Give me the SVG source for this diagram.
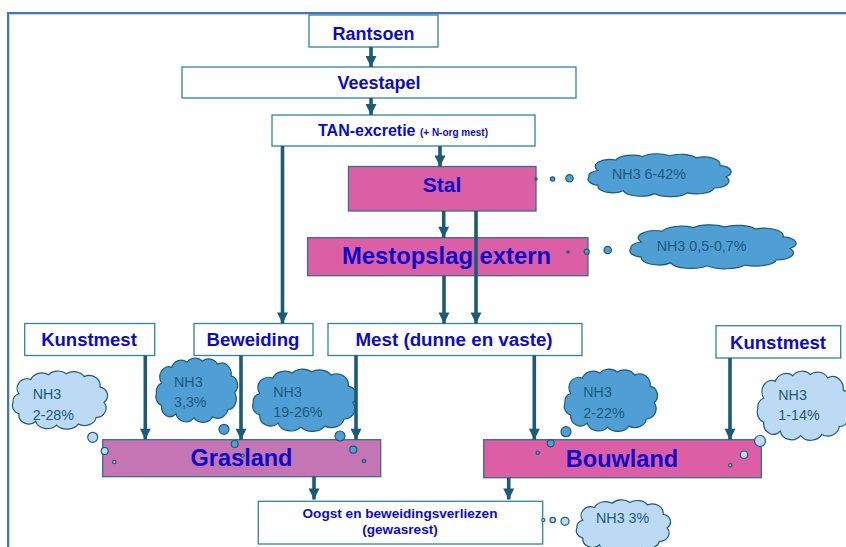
<svg xmlns="http://www.w3.org/2000/svg" xmlns:xlink="http://www.w3.org/1999/xlink" width="846" height="547" viewBox="0 0 846 547">
<style>
.box{fill:#fff;stroke:#31849b;stroke-width:1.3}
.pink{fill:#dc5ea5;stroke:#31708e;stroke-width:1.3}
.mauve{fill:#c574b4;stroke:#31708e;stroke-width:1.3}
.t{font-family:"Liberation Sans",Arial,sans-serif;font-weight:bold;fill:#0b0bc8;text-anchor:middle}
.ct{font-family:"Liberation Sans",Arial,sans-serif;font-size:14.3px;fill:#1e5878}
.cm{fill:#4f9fd4;stroke:#1e5a78;stroke-width:1.2}
.cl{fill:#bcdaf4;stroke:#1e5a78;stroke-width:1.2}
.con{stroke:#1d5a76;stroke-width:3.6;fill:none;marker-end:url(#ah)}
.frame{stroke:#4472c4;stroke-width:2;fill:none}
</style>
<defs>
<marker id="ah" viewBox="0 0 10 10" refX="10" refY="5" markerWidth="12" markerHeight="11" markerUnits="userSpaceOnUse" orient="auto">
<path d="M0,0 L10,5 L0,10 Z" fill="#1d5a76"/>
</marker>
<path id="cloud" vector-effect="non-scaling-stroke" d="M10,25 A10,10 0 0 1 22,10 A12,11 0 0 1 40,5 A12,10 0 0 1 58,4 A12,10 0 0 1 76,7 A11,11 0 0 1 92,18 A9,9 0 0 1 96,34 A10,10 0 0 1 88,50 A12,10 0 0 1 70,57 A13,10 0 0 1 48,58 A12,10 0 0 1 27,54 A10,10 0 0 1 10,46 A9,9 0 0 1 4,34 A8,8 0 0 1 10,25 Z"/>
</defs>
<rect width="846" height="547" fill="#fff"/>
<path class="frame" d="M8,547 V13 H846"/>
<path d="M9.5,547 V14.5 H846" stroke="#c5d6ef" stroke-width="1" fill="none"/>

<g id="rantsoen"><rect class="box" x="309" y="15" width="129" height="32"/><text class="t" x="373.5" y="39.5" font-size="18">Rantsoen</text></g>
<g id="veestapel"><rect class="box" x="182" y="67" width="394" height="31"/><text class="t" x="379" y="89.3" font-size="18">Veestapel</text></g>
<g id="tan"><rect class="box" x="272" y="115" width="263" height="31"/><text class="t" x="403" y="136" font-size="16">TAN-excretie <tspan font-size="10">(+ N-org mest)</tspan></text></g>
<g id="stal"><rect class="pink" x="348.5" y="166.5" width="187.5" height="44.5"/><text class="t" x="442" y="191.7" font-size="21">Stal</text></g>
<g id="mestopslag"><rect class="pink" x="307.6" y="237.7" width="280.4" height="38"/><text class="t" x="446.5" y="264" font-size="23.8">Mestopslag extern</text></g>
<g id="kunstmest-l"><rect class="box" x="24.7" y="323.5" width="130" height="32"/><text class="t" x="89" y="346" font-size="18.5">Kunstmest</text></g>
<g id="beweiding"><rect class="box" x="194" y="323.5" width="119" height="32"/><text class="t" x="253" y="346" font-size="18.6">Beweiding</text></g>
<g id="mest"><rect class="box" x="328" y="323.5" width="254" height="32"/><text class="t" x="454" y="346" font-size="18.8">Mest (dunne en vaste)</text></g>
<g id="kunstmest-r"><rect class="box" x="716" y="325.7" width="124.7" height="32.3"/><text class="t" x="778" y="349" font-size="18.6">Kunstmest</text></g>
<g id="grasland"><rect class="mauve" x="102.7" y="439.7" width="278" height="37"/><text class="t" x="241.5" y="465.7" font-size="23.5">Grasland</text></g>
<g id="bouwland"><rect class="pink" x="483.7" y="439.7" width="277.6" height="38"/><text class="t" x="622" y="466.7" font-size="23.5">Bouwland</text></g>
<g id="oogst"><rect class="box" x="258.3" y="501.3" width="284.4" height="42.7"/><text class="t" x="400" y="518.3" font-size="13.6">Oogst en beweidingsverliezen</text><text class="t" x="400" y="534" font-size="13.6">(gewasrest)</text></g>

<g id="cloud-stal">
<use xlink:href="#cloud" href="#cloud" class="cm" transform="translate(583,153) scale(1.49,0.7)"/>
<text class="ct" x="612" y="179">NH3 6-42%</text>
<circle class="cm" cx="536" cy="179" r="1.2"/><circle class="cm" cx="552.5" cy="179" r="2.2"/><circle class="cm" cx="569.5" cy="178.3" r="3.7"/>
</g>
<g id="cloud-opslag">
<use xlink:href="#cloud" href="#cloud" class="cm" transform="translate(624,224) scale(1.73,0.72)"/>
<text class="ct" x="656.7" y="251">NH3 0,5-0,7%</text>
<circle class="cm" cx="568" cy="252" r="1.2"/><circle class="cm" cx="586.7" cy="251.7" r="2.5"/><circle class="cm" cx="607.7" cy="250" r="3.7"/>
</g>
<g id="cloud-kunst-l">
<use xlink:href="#cloud" href="#cloud" class="cl" transform="translate(9,370) scale(0.99,0.95)"/>
<text class="ct" x="32.7" y="399">NH3</text><text class="ct" x="32.7" y="420">2-28%</text>
<circle class="cl" cx="92.7" cy="437.3" r="5"/><circle class="cl" cx="104.7" cy="451" r="3.5"/><circle class="cl" cx="114.3" cy="462" r="1.7"/>
</g>
<g id="cloud-beweiding">
<use xlink:href="#cloud" href="#cloud" class="cm" transform="translate(153,357) scale(0.85,1.05)"/>
<text class="ct" x="174" y="387.3">NH3</text><text class="ct" x="174" y="406.7">3,3%</text>
<circle class="cm" cx="224" cy="429.3" r="5"/><circle class="cm" cx="234.7" cy="444" r="3.5"/><circle class="cm" cx="242.7" cy="455.7" r="1.5"/>
</g>
<g id="cloud-mest-g">
<use xlink:href="#cloud" href="#cloud" class="cm" transform="translate(249,368) scale(1.08,1.02)"/>
<text class="ct" x="273.3" y="397.3">NH3</text><text class="ct" x="273.3" y="417.3">19-26%</text>
<circle class="cm" cx="340" cy="436" r="5"/><circle class="cm" cx="353.3" cy="449.7" r="3.5"/><circle class="cm" cx="364" cy="461" r="1.7"/>
</g>
<g id="cloud-mest-b">
<use xlink:href="#cloud" href="#cloud" class="cm" transform="translate(561,368) scale(0.97,1.02)"/>
<text class="ct" x="583.3" y="397.3">NH3</text><text class="ct" x="583.3" y="418.3">2-22%</text>
<circle class="cm" cx="566" cy="431.7" r="5"/><circle class="cm" cx="550.7" cy="443.3" r="3.5"/><circle class="cm" cx="537.7" cy="452.7" r="1.7"/>
</g>
<g id="cloud-kunst-r">
<use xlink:href="#cloud" href="#cloud" class="cl" transform="translate(754,370) scale(0.97,1.13)"/>
<text class="ct" x="778.3" y="400">NH3</text><text class="ct" x="778.3" y="420">1-14%</text>
<circle class="cl" cx="760" cy="441" r="5.5"/><circle class="cl" cx="744" cy="454.7" r="3.7"/><circle class="cl" cx="730.3" cy="465.3" r="1.7"/>
</g>
<g id="cloud-oogst">
<use xlink:href="#cloud" href="#cloud" class="cl" transform="translate(573,499) scale(0.98,0.85)"/>
<text class="ct" x="596" y="522.7" font-size="13">NH3 3%</text>
<circle class="cl" cx="543.3" cy="520" r="1.5"/><circle class="cl" cx="552.7" cy="520" r="2.7"/><circle class="cl" cx="565" cy="521.3" r="4"/>
</g>

<g id="connectors">
<line class="con" x1="371" y1="47" x2="371" y2="67"/>
<line class="con" x1="371" y1="98" x2="371" y2="115"/>
<line class="con" x1="440" y1="146" x2="440" y2="166.5"/>
<line class="con" x1="443.7" y1="211" x2="443.7" y2="237.7"/>
<line class="con" x1="282.5" y1="146" x2="282.5" y2="323.5"/>
<line class="con" x1="444" y1="275.7" x2="444" y2="323.5"/>
<line class="con" x1="476" y1="211" x2="476" y2="323.5"/>
<line class="con" x1="145.3" y1="355.5" x2="145.3" y2="439.7"/>
<line class="con" x1="241" y1="355.5" x2="241" y2="439.7"/>
<line class="con" x1="356" y1="355.5" x2="356" y2="439.7"/>
<line class="con" x1="534.3" y1="355.5" x2="534.3" y2="439.7"/>
<line class="con" x1="730" y1="358" x2="730" y2="439.7"/>
<line class="con" x1="314" y1="476.7" x2="314" y2="499.5"/>
<line class="con" x1="508.7" y1="477.7" x2="508.7" y2="499.5"/>
</g>
</svg>
